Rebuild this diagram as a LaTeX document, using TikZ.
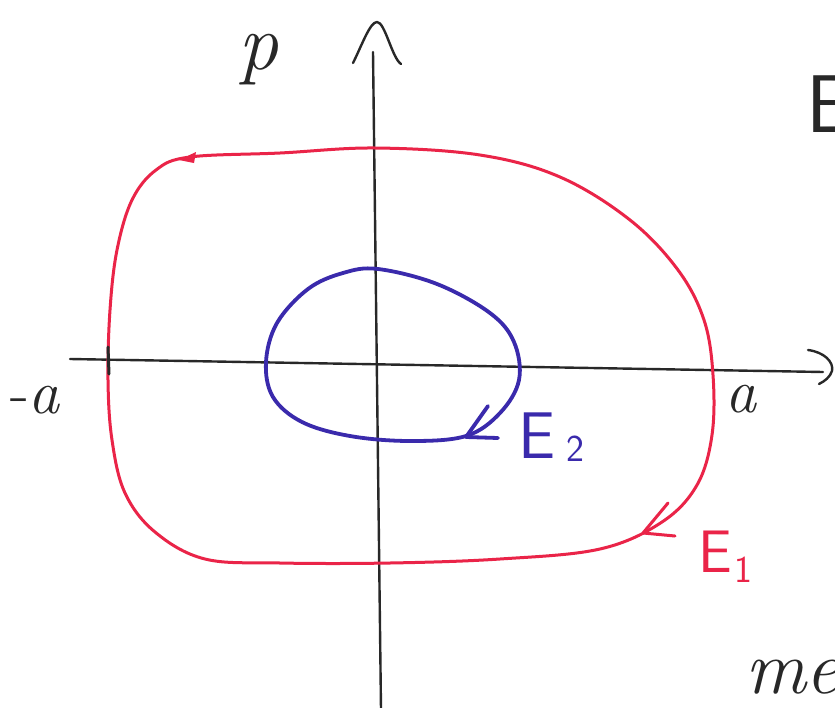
\documentclass[tikz,border=0pt]{standalone}
\usepackage{fontspec}
\definecolor{penred}{RGB}{234,36,72}
\definecolor{penblue}{RGB}{58,42,172}
\definecolor{penblack}{RGB}{40,40,40}
\tikzset{
  axisline/.style={penblack, line width=2.4pt, line cap=round, line join=round},
  redpen/.style={penred, line width=3pt, line cap=round, line join=round},
  bluepen/.style={penblue, line width=3.8pt, line cap=round, line join=round},
  hand/.style={inner sep=0pt, outer sep=0pt}
}
\begin{document}
\begin{tikzpicture}[x=1pt, y=-1pt]
\clip (0,0) rectangle (835,707);
\fill[white] (0,0) rectangle (835,707);

% axes
\coordinate (xl) at (70,359);
\coordinate (xr) at (823,372);
\coordinate (yt) at (373,52);
\coordinate (yb) at (381,710);
\draw[axisline] (xl) -- (xr);
\draw[axisline] (yt) -- (yb);
% arrowheads of the axes (hand drawn)
\draw[axisline] (353,63) .. controls (362,45) and (370,22) .. (377,22)
                 .. controls (385,22) and (392,58) .. (401,64);
\draw[axisline] (808,350) .. controls (824,352) and (834,362) .. (832,371)
                 .. controls (830,377) and (825,381) .. (819,384);

% red curve E1
\draw[redpen] plot[smooth cycle, tension=0.6] coordinates {
 (190,157) (280,153) (375,148) (480,155) (560,177) (630,220) (678,270)
 (704,320) (713,375) (712,435) (697,485) (662,522) (600,549) (500,559)
 (390,563) (280,563) (205,559) (155,532) (125,493) (112,440) (108,380)
 (110,310) (117,250) (132,200) (156,170)};
% red arrow heads
\coordinate (rtip) at (643,533);
\draw[redpen] (668,503) -- (rtip) -- (675,536);
\fill[penred] (179,160) -- (196,152) -- (194,163) -- cycle;

% tick at -a
\coordinate (tk1) at (108,347);
\coordinate (tk2) at (109,374);
\draw[axisline, line width=3pt] (tk1) -- (tk2);

% blue curve E2
\draw[bluepen] plot[smooth cycle, tension=0.6] coordinates {
 (378,269) (437,284) (490,313) (514,342) (519,380) (500,413) (466,436)
 (410,441) (350,436) (302,422) (273,397) (266,362) (277,323) (308,289)
 (343,273)};
\coordinate (btip) at (466,437);
\draw[bluepen] (488,406) -- (btip) -- (498,438);

% labels
\node[hand, penblack] (lp) at (258,60) {\fontsize{80}{80}\selectfont\itshape p};
\node[hand, penblack, anchor=base west] (lma) at (10,413) {\fontsize{62}{62}\selectfont -\itshape a};
\node[hand, penblack, anchor=base west] (la) at (725,412) {\fontsize{62}{62}\selectfont\itshape a};
\node[hand, penred, anchor=base west] (le1) at (698,572) {\fontsize{60}{60}\selectfont\sffamily E};
\node[hand, penred, anchor=base west] (le1s) at (734,582) {\fontsize{38}{38}\selectfont\sffamily 1};
\node[hand, penblue, anchor=base west] (le2) at (518,458) {\fontsize{66}{66}\selectfont\sffamily E};
\node[hand, penblue, anchor=base west] (le2s) at (566,461) {\fontsize{38}{38}\selectfont\sffamily 2};
\node[hand, penblack, anchor=base west] (le) at (806,132) {\fontsize{82}{82}\selectfont\sffamily E};
\node[hand, penblack, anchor=base west] (lme) at (745,693) {\fontsize{76}{76}\selectfont\itshape me};
\end{tikzpicture}
\end{document}
